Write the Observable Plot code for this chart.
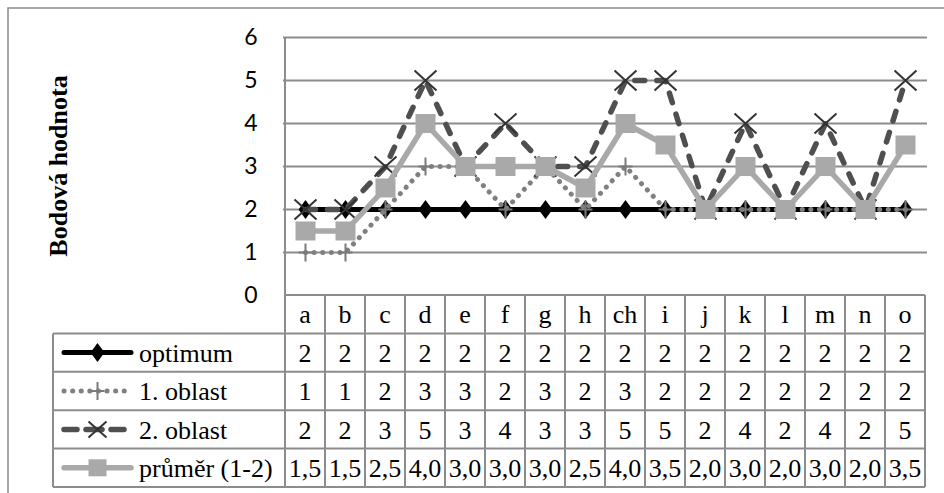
<!DOCTYPE html>
<html><head><meta charset="utf-8">
<script src="https://cdn.jsdelivr.net/npm/d3@7"></script>
<script src="https://cdn.jsdelivr.net/npm/@observablehq/plot@0.6"></script>
<style>body{margin:0;background:#fff} svg{display:block}</style>
</head><body><div id="chart"></div>
<script>
// ---- data ----
const categories = ["a","b","c","d","e","f","g","h","ch","i","j","k","l","m","n","o"];
const optimum = [2,2,2,2,2,2,2,2,2,2,2,2,2,2,2,2];
const oblast1 = [1,1,2,3,3,2,3,2,3,2,2,2,2,2,2,2];
const oblast2 = [2,2,3,5,3,4,3,3,5,5,2,4,2,4,2,5];
const prumer  = [1.5,1.5,2.5,4.0,3.0,3.0,3.0,2.5,4.0,3.5,2.0,3.0,2.0,3.0,2.0,3.5];
const seriesNames = ["optimum","1. oblast","2. oblast","průměr (1-2)"];
const yTicks = [0,1,2,3,4,5,6];
const yTitle = "Bodová hodnota";

// ---- styles ----
const diamond = {draw(c){c.moveTo(0,-9.5);c.lineTo(7,0);c.lineTo(0,9.5);c.lineTo(-7,0);c.closePath();}};
const plus = {draw(c){c.moveTo(-7,0);c.lineTo(7,0);c.moveTo(0,-9);c.lineTo(0,9);}};
const times = {draw(c){c.moveTo(-11,-10);c.lineTo(11,10);c.moveTo(11,-10);c.lineTo(-11,10);}};
const timesSmall = {draw(c){c.moveTo(-9,-8);c.lineTo(9,8);c.moveTo(9,-8);c.lineTo(-9,8);}};
const square = {draw(c){c.rect(-10,-9.5,20,19);}};
const squareSmall = {draw(c){c.rect(-9,-8.5,18,17);}};
const seriesStyle = [
  {line:{stroke:"#000",strokeWidth:5}, dot:{symbol:diamond, fill:"#000", stroke:"none"}, legendSymbol: diamond},
  {line:{stroke:"#808080",strokeWidth:5,strokeDasharray:"0.1 8.5",strokeLinecap:"round"}, dot:{symbol:plus, fill:"none", stroke:"#7a7a7a", strokeWidth:2}, legendSymbol: plus},
  {line:{stroke:"#4f4f4f",strokeWidth:5.5,strokeDasharray:"10 12",strokeLinecap:"round"}, dot:{symbol:times, fill:"none", stroke:"#333", strokeWidth:2}, legendSymbol: timesSmall, legendDash:"13 9 16 9 13"},
  {line:{stroke:"#a9a9a9",strokeWidth:5.5}, dot:{symbol:square, fill:"#a9a9a9", stroke:"none"}, legendSymbol: squareSmall}
];
const seriesValues = [optimum, oblast1, oblast2, prumer];
const seriesData = seriesValues.map(vals => categories.map((c,i) => ({cat:c, value:vals[i]})));

const marks = [Plot.ruleY(yTicks.filter(d => d > 0), {stroke:"#8c8c8c", strokeWidth:2})];
seriesData.forEach((data,k) => {
  marks.push(Plot.line(data, {x:"cat", y:"value", ...seriesStyle[k].line}));
  marks.push(Plot.dot(data, {x:"cat", y:"value", r:5, ...seriesStyle[k].dot}));
});

const plot = Plot.plot({
  width: 944, height: 493,
  marginTop: 37, marginBottom: 198, marginLeft: 283, marginRight: 17,
  x: {type:"point", domain: categories, padding: 0.5, axis: null},
  y: {domain:[0,6], ticks: 6, tickSize: 0, tickPadding: 26, label: null, tickFormat: d => String(d)},
  style: {fontFamily: "Lato, 'Open Sans', sans-serif", fontSize: "23px", color: "#000", background: "#fff", overflow: "visible"},
  marks
});
document.getElementById("chart").appendChild(plot);

// ---- data table drawn with the plot's scales ----
const svg = d3.select(plot);
const xs = plot.scale("x"), ys = plot.scale("y");
const step = xs.apply(categories[1]) - xs.apply(categories[0]);
const left = xs.apply(categories[0]) - step/2;
const right = xs.apply(categories[categories.length-1]) + step/2;
const y0 = ys.apply(0), yTop = ys.apply(6);
const rowH = 38.4, legendLeft = 53;
const nRows = seriesNames.length + 1;
const bottom = y0 + rowH*nRows;
const lineCol = "#8c8c8c";
const serif = "'Liberation Serif','Times New Roman',serif";
const g = svg.append("g");

// outer chart border
g.append("path").attr("d", `M8,${plot.getAttribute("height")}V8H944`).attr("fill","none").attr("stroke","#8a8a8a").attr("stroke-width",1.5);
// vertical axis line
g.append("line").attr("x1",left).attr("x2",left).attr("y1",yTop).attr("y2",bottom).attr("stroke",lineCol).attr("stroke-width",2);
// horizontal table lines
for (let k=0;k<=nRows;k++){
  const y = y0 + rowH*k;
  g.append("line").attr("x1", k===0 ? left : legendLeft).attr("x2", right).attr("y1",y).attr("y2",y).attr("stroke",lineCol).attr("stroke-width",2);
}
// vertical table lines
categories.forEach((c,j) => {
  const x = xs.apply(c) + step/2;
  g.append("line").attr("x1",x).attr("x2",x).attr("y1",y0).attr("y2",bottom).attr("stroke",lineCol).attr("stroke-width",2);
});
g.append("line").attr("x1",legendLeft).attr("x2",legendLeft).attr("y1",y0+rowH).attr("y2",bottom).attr("stroke",lineCol).attr("stroke-width",2);

// header
categories.forEach(c => {
  g.append("text").attr("x",xs.apply(c)).attr("y",y0+rowH/2).attr("dy","0.35em").attr("text-anchor","middle")
   .attr("font-family",serif).attr("font-size",26).attr("fill","#000").text(c);
});
const fmt = (v,k) => k===3 ? d3.format(".1f")(v).replace(".",",") : String(v);
seriesNames.forEach((name,k) => {
  const cy = y0 + rowH*(k+1) + rowH/2;
  categories.forEach((c,i) => {
    g.append("text").attr("x",xs.apply(c)).attr("y",cy).attr("dy","0.35em").attr("text-anchor","middle")
     .attr("font-family",serif).attr("font-size",26).attr("fill","#000").text(fmt(seriesValues[k][i],k));
  });
  // legend sample
  const st = seriesStyle[k];
  g.append("line").attr("x1",64).attr("x2",131).attr("y1",cy).attr("y2",cy)
   .attr("stroke",st.line.stroke).attr("stroke-width",st.line.strokeWidth)
   .attr("stroke-dasharray",st.legendDash||st.line.strokeDasharray||null).attr("stroke-linecap",st.line.strokeLinecap||"round");
  const p = d3.path(); st.legendSymbol.draw(p);
  g.append("path").attr("d",p.toString()).attr("transform",`translate(97.5,${cy})`)
   .attr("fill",st.dot.fill).attr("stroke",st.dot.stroke).attr("stroke-width",st.dot.strokeWidth||null);
  g.append("text").attr("x",139).attr("y",cy).attr("dy","0.35em").attr("text-anchor","start")
   .attr("font-family",serif).attr("font-size",26).attr("fill","#000").text(name);
});

// y-axis title
g.append("text").attr("transform",`translate(58,${(yTop+y0)/2}) rotate(-90)`).attr("dy","0.35em").attr("text-anchor","middle")
 .attr("font-family",serif).attr("font-size",26).attr("font-weight","bold").attr("fill","#000").text(yTitle);
</script>
</body></html>
